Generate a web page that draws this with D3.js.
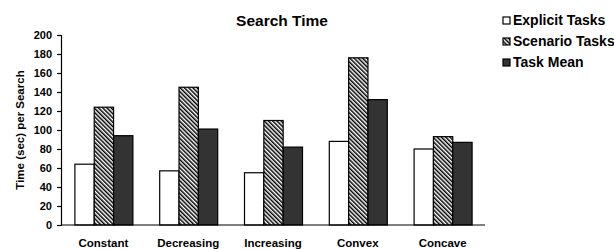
<!DOCTYPE html>
<html>
<head>
<meta charset="utf-8">
<script src="https://cdn.jsdelivr.net/npm/d3@7"></script>
<style>
    body { margin: 0; background: #fff; }
    text { font-family: "Liberation Sans", Arial, sans-serif; font-weight: bold; fill: #000; }
</style>
</head>
<body>
<div id="chart"></div>
<script>
// data
var categories = ["Constant", "Decreasing", "Increasing", "Convex", "Concave"];
var seriesNames = ["Explicit Tasks", "Scenario Tasks", "Task Mean"];
var explicitTasks = [64, 57, 55, 88, 80];
var scenarioTasks = [124, 145, 110, 176, 93];
var taskMean = [94, 101, 82, 132, 87];
var yTicks = [0, 20, 40, 60, 80, 100, 120, 140, 160, 180, 200];

var width = 614, height = 249;
var margin = { left: 61, right: 129, top: 35, bottom: 24 };

var svg = d3.select("#chart")
    .append("svg")
    .attr("width", width)
    .attr("height", height);

var defs = svg.append("defs");
defs.append("pattern")
    .attr("id", "hatch")
    .attr("patternUnits", "userSpaceOnUse")
    .attr("width", 3)
    .attr("height", 3)
    .attr("patternTransform", "rotate(-45)")
    .call(function(p) {
        p.append("rect").attr("width", 3).attr("height", 3).attr("fill", "#fff");
        p.append("line")
            .attr("x1", 0.75).attr("y1", 0)
            .attr("x2", 0.75).attr("y2", 3)
            .attr("stroke", "#000")
            .attr("stroke-width", 1.5);
    });

var fills = ["#fff", "url(#hatch)", "#333"];

var x0 = d3.scaleBand()
    .domain(categories)
    .range([margin.left, width - margin.right])
    .paddingInner(0.316)
    .paddingOuter(0.158);

var x1 = d3.scaleBand()
    .domain(seriesNames)
    .range([0, x0.bandwidth()]);

var y = d3.scaleLinear()
    .domain([0, 200])
    .range([height - margin.bottom, margin.top]);

var rows = categories.map(function(c, i) {
    return { cat: c, vals: [explicitTasks[i], scenarioTasks[i], taskMean[i]] };
});

var groups = svg.append("g")
    .selectAll("g")
    .data(rows)
    .enter().append("g")
    .attr("transform", function(d) { return "translate(" + x0(d.cat) + ",0)"; });

groups.selectAll("rect")
    .data(function(d) { return d.vals.map(function(v, j) { return { name: seriesNames[j], v: v, j: j }; }); })
    .enter().append("rect")
    .attr("x", function(d) { return x1(d.name) + 0.5; })
    .attr("y", function(d) { return y(d.v); })
    .attr("width", x1.bandwidth())
    .attr("height", function(d) { return y(0) - y(d.v); })
    .attr("fill", function(d) { return fills[d.j]; })
    .attr("stroke", "#000")
    .attr("stroke-width", 1.2);

// y axis
var yAxis = svg.append("g")
    .attr("transform", "translate(" + margin.left + ",0)")
    .call(d3.axisLeft(y).tickValues(yTicks).tickSize(4).tickPadding(5));
yAxis.select(".domain").attr("stroke", "#000").attr("stroke-width", 1.2);
yAxis.selectAll(".tick line").attr("stroke", "#000").attr("stroke-width", 1.2);
yAxis.selectAll(".tick text")
    .style("font-size", "11px")
    .style("font-family", "Liberation Sans, Arial, sans-serif")
    .style("font-weight", "bold");

// x baseline + labels
svg.append("line")
    .attr("x1", margin.left)
    .attr("x2", width - margin.right)
    .attr("y1", y(0))
    .attr("y2", y(0))
    .attr("stroke", "#000")
    .attr("stroke-width", 1.2);

svg.append("g")
    .selectAll("text")
    .data(categories)
    .enter().append("text")
    .attr("x", function(d) { return x0(d) + x0.bandwidth() / 2; })
    .attr("y", 247)
    .attr("text-anchor", "middle")
    .style("font-size", "11.5px")
    .text(function(d) { return d; });

// title
svg.append("text")
    .attr("x", 282)
    .attr("y", 26)
    .attr("text-anchor", "middle")
    .style("font-size", "15.5px")
    .text("Search Time");

// y title
svg.append("text")
    .attr("transform", "translate(24," + ((margin.top + height - margin.bottom) / 2) + ") rotate(-90)")
    .attr("text-anchor", "middle")
    .style("font-size", "11.5px")
    .text("Time (sec) per Search");

// legend
var legend = svg.append("g")
    .selectAll("g")
    .data(seriesNames)
    .enter().append("g")
    .attr("transform", function(d, i) { return "translate(503," + (17 + i * 21) + ")"; });

legend.append("rect")
    .attr("width", 7)
    .attr("height", 7)
    .attr("fill", function(d, i) { return fills[i]; })
    .attr("stroke", "#000")
    .attr("stroke-width", 1.2);

legend.append("text")
    .attr("x", 10)
    .attr("y", 8)
    .style("font-size", "14px")
    .text(function(d) { return d; });
</script>
</body>
</html>
